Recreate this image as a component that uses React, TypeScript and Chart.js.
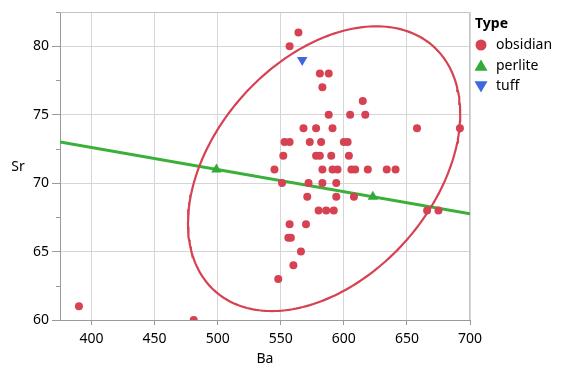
import React, { useEffect, useRef } from 'react';
import { Chart, registerables } from 'chart.js';

Chart.register(...registerables);

const FONT = '"Noto Sans", "Open Sans", sans-serif';

// ---- data ----
const typeNames = ['obsidian', 'perlite', 'tuff'];
const typeColors = ['rgb(214,66,82)', 'rgb(52,168,56)', 'rgb(62,104,222)'];

const obsidianBa = [
  390, 481,
  564, 557,
  581, 588,
  583,
  615,
  588, 605, 617,
  568, 578, 591, 658, 692,
  553, 557, 573, 582, 600, 603,
  552, 578, 581, 590, 604,
  545, 583, 591, 595, 606, 609, 619, 634, 641,
  551, 572, 583, 594,
  571, 594, 608,
  580, 586, 592, 666, 675,
  557, 570,
  556, 558,
  566,
  560,
  548,
];
const obsidianSr = [
  61, 60,
  81, 80,
  78, 78,
  77,
  76,
  75, 75, 75,
  74, 74, 74, 74, 74,
  73, 73, 73, 73, 73, 73,
  72, 72, 72, 72, 72,
  71, 71, 71, 71, 71, 71, 71, 71, 71,
  70, 70, 70, 70,
  69, 69, 69,
  68, 68, 68, 68, 68,
  67, 67,
  66, 66,
  65,
  64,
  63,
];
const perliteBa = [499, 623];
const perliteSr = [71, 69];
const tuffBa = [567];
const tuffSr = [79];

const xTicks = [400, 450, 500, 550, 600, 650, 700];
const yTicks = [60, 65, 70, 75, 80];
const yMinorTicks = [62.5, 67.5, 72.5, 77.5, 82.5];
const xRange = [375, 700];
const yRange = [60, 82.5];
const xTitle = 'Ba';
const yTitle = 'Sr';
const legendTitle = 'Type';
const ellipseChi2 = 5.991; // 95% bivariate normal density ellipse

// ---- derived ----
function toPoints(xs: number[], ys: number[]) {
  return xs.map((x, i) => ({ x, y: ys[i] }));
}

function densityEllipse(xs: number[], ys: number[], chi2: number) {
  const n = xs.length;
  const mx = xs.reduce((a, b) => a + b, 0) / n;
  const my = ys.reduce((a, b) => a + b, 0) / n;
  let sxx = 0, syy = 0, sxy = 0;
  for (let i = 0; i < n; i++) {
    sxx += (xs[i] - mx) ** 2;
    syy += (ys[i] - my) ** 2;
    sxy += (xs[i] - mx) * (ys[i] - my);
  }
  const sx = Math.sqrt(sxx / (n - 1));
  const sy = Math.sqrt(syy / (n - 1));
  const r = sxy / Math.sqrt(sxx * syy);
  const k = Math.sqrt(chi2);
  const pts: { x: number; y: number }[] = [];
  const steps = 240;
  for (let i = 0; i <= steps; i++) {
    const t = (i / steps) * Math.PI * 2;
    pts.push({
      x: mx + k * sx * Math.cos(t),
      y: my + k * sy * (r * Math.cos(t) + Math.sqrt(1 - r * r) * Math.sin(t)),
    });
  }
  return pts;
}

function fitLine(xs: number[], ys: number[], range: number[]) {
  const n = xs.length;
  const mx = xs.reduce((a, b) => a + b, 0) / n;
  const my = ys.reduce((a, b) => a + b, 0) / n;
  let num = 0, den = 0;
  for (let i = 0; i < n; i++) {
    num += (xs[i] - mx) * (ys[i] - my);
    den += (xs[i] - mx) ** 2;
  }
  const b = num / den;
  const a = my - b * mx;
  return range.map((x) => ({ x, y: a + b * x }));
}

const decorPlugin = {
  id: 'decor',
  beforeDatasetsDraw(chart: any) {
    const { ctx, chartArea } = chart;
    const { left, right, top, bottom } = chartArea;
    ctx.save();
    ctx.strokeStyle = '#c4c4c4';
    ctx.lineWidth = 1;
    ctx.beginPath();
    ctx.moveTo(left, top + 0.5);
    ctx.lineTo(right - 0.5, top + 0.5);
    ctx.lineTo(right - 0.5, bottom);
    ctx.stroke();
    // minor ticks on y axis
    const ys = chart.scales.y;
    ctx.strokeStyle = '#9a9a9a';
    ctx.beginPath();
    yMinorTicks.forEach((v) => {
      const py = Math.round(ys.getPixelForValue(v)) + 0.5;
      ctx.moveTo(left - 4, py);
      ctx.lineTo(left, py);
    });
    ctx.stroke();
    ctx.restore();
  },
  afterDraw(chart: any) {
    const { ctx } = chart;
    ctx.save();
    ctx.fillStyle = '#000';
    ctx.textBaseline = 'middle';
    // y title (horizontal)
    ctx.font = `14px ${FONT}`;
    ctx.textAlign = 'center';
    ctx.fillText(yTitle, 18, 167);
    // legend
    ctx.textAlign = 'left';
    ctx.font = `bold 14px ${FONT}`;
    ctx.fillText(legendTitle, 475, 24);
    ctx.font = `14px ${FONT}`;
    const rowY = [45, 66, 86];
    const mx = 481;
    typeNames.forEach((name, i) => {
      const y = rowY[i];
      ctx.fillStyle = typeColors[i];
      ctx.beginPath();
      if (i === 0) {
        ctx.arc(mx, y, 5.5, 0, Math.PI * 2);
      } else {
        const r = 7.5;
        const dir = i === 1 ? 1 : -1;
        const cy = y + dir * 1;
        ctx.moveTo(mx, cy - dir * r);
        ctx.lineTo(mx + r * Math.sin((2 * Math.PI) / 3), cy + dir * r * 0.5);
        ctx.lineTo(mx - r * Math.sin((2 * Math.PI) / 3), cy + dir * r * 0.5);
        ctx.closePath();
      }
      ctx.fill();
      ctx.fillStyle = '#000';
      ctx.fillText(name, 496, y);
    });
    ctx.restore();
  },
};

export default function App() {
  const ref = useRef<HTMLCanvasElement | null>(null);
  useEffect(() => {
    if (!ref.current) return;
    const chart = new Chart(ref.current, {
      type: 'scatter',
      data: {
        datasets: [
          {
            label: typeNames[0],
            data: toPoints(obsidianBa, obsidianSr),
            backgroundColor: typeColors[0],
            borderColor: typeColors[0],
            pointRadius: 4,
            pointBorderWidth: 0,
            pointStyle: 'circle',
            clip: 0,
            order: 2,
          },
          {
            label: typeNames[1],
            data: toPoints(perliteBa, perliteSr),
            backgroundColor: typeColors[1],
            borderColor: typeColors[1],
            pointRadius: 6,
            pointBorderWidth: 0,
            pointStyle: 'triangle',
            clip: 0,
            order: 1,
          },
          {
            label: typeNames[2],
            data: toPoints(tuffBa, tuffSr),
            backgroundColor: typeColors[2],
            borderColor: typeColors[2],
            pointRadius: 6,
            pointBorderWidth: 0,
            pointStyle: 'triangle',
            pointRotation: 180,
            clip: 0,
            order: 1,
          },
          {
            label: 'obsidian ellipse',
            data: densityEllipse(obsidianBa, obsidianSr, ellipseChi2),
            showLine: true,
            borderColor: typeColors[0],
            borderWidth: 2.2,
            pointRadius: 0,
            fill: false,
            clip: 0,
            order: 3,
          },
          {
            label: 'perlite fit',
            data: fitLine(perliteBa, perliteSr, xRange),
            showLine: true,
            borderColor: 'rgb(58,176,58)',
            borderWidth: 3,
            pointRadius: 0,
            fill: false,
            clip: 0,
            order: 3,
          },
        ],
      },
      options: {
        responsive: false,
        animation: false,
        events: [],
        layout: { padding: { top: 12, right: 111, left: 0, bottom: 0 } },
        plugins: {
          legend: { display: false },
          tooltip: { enabled: false },
        },
        scales: {
          x: {
            type: 'linear',
            min: xRange[0],
            max: xRange[1],
            afterBuildTicks: (s: any) => {
              s.ticks = xTicks.map((v) => ({ value: v }));
            },
            afterFit: (s: any) => {
              s.height = 59;
            },
            ticks: {
              color: '#000',
              font: { family: FONT, size: 14 },
              padding: 6,
              maxRotation: 0,
              autoSkip: false,
            },
            grid: { color: '#d6d6d6', tickColor: '#9a9a9a', tickLength: 5 },
            border: { color: '#9a9a9a' },
            title: {
              display: true,
              text: xTitle,
              color: '#000',
              font: { family: FONT, size: 14 },
              padding: { top: 0, bottom: 12 },
            },
          },
          y: {
            type: 'linear',
            min: yRange[0],
            max: yRange[1],
            afterBuildTicks: (s: any) => {
              s.ticks = yTicks.map((v) => ({ value: v }));
            },
            afterFit: (s: any) => {
              s.width = 60;
            },
            ticks: {
              color: '#000',
              font: { family: FONT, size: 14 },
              padding: 3,
              autoSkip: false,
            },
            grid: { color: '#d6d6d6', tickColor: '#9a9a9a', tickLength: 8 },
            border: { color: '#9a9a9a' },
          },
        },
      },
      plugins: [decorPlugin],
    } as any);
    return () => chart.destroy();
  }, []);
  return (
    <div style={{ position: 'absolute', left: 0, top: 0, width: 581, height: 379, background: '#fff' }}>
      <canvas ref={ref} width={581} height={379} style={{ display: 'block' }} />
    </div>
  );
}
